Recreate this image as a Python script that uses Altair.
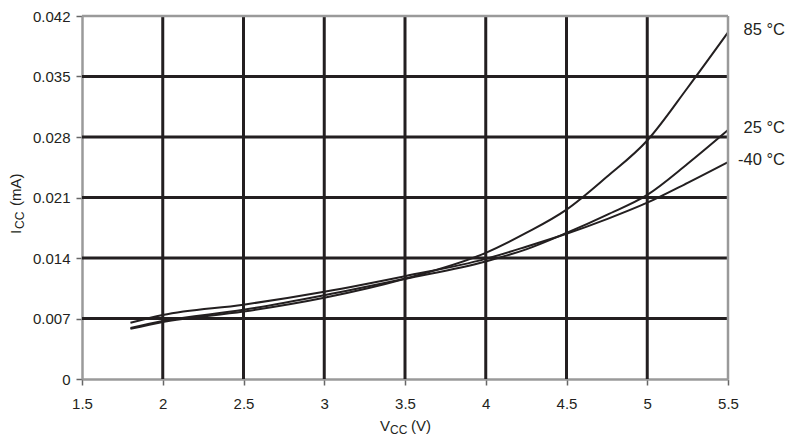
import altair as alt
import pandas as pd

# ---- data ----
vcc = [1.8, 2.0, 2.5, 3.0, 3.5, 4.0, 4.25, 4.5, 4.75, 5.0, 5.25, 5.5]
icc_m40 = [0.0065, 0.0074, 0.0086, 0.0101, 0.0119, 0.0139, 0.0153, 0.0168, 0.0185, 0.0204, 0.0227, 0.0251]
icc_25 = [0.0059, 0.0067, 0.0080, 0.0097, 0.0116, 0.0136, 0.0150, 0.0169, 0.0190, 0.0213, 0.0249, 0.0288]
icc_85 = [0.0058, 0.0066, 0.0078, 0.0094, 0.0116, 0.0146, 0.0169, 0.0196, 0.0234, 0.0276, 0.0337, 0.0401]
series_names = ["-40 °C", "25 °C", "85 °C"]

x_ticks = [1.5, 2.0, 2.5, 3.0, 3.5, 4.0, 4.5, 5.0, 5.5]
y_ticks = [0, 0.007, 0.014, 0.021, 0.028, 0.035, 0.042]
x_grid = [2.0, 2.5, 3.0, 3.5, 4.0, 4.5, 5.0]
y_grid = [0.007, 0.014, 0.021, 0.028, 0.035]
x_edge = [5.5]
y_edge = [0.042]

rows = []
for name, vals in zip(series_names, [icc_m40, icc_25, icc_85]):
    for v, i in zip(vcc, vals):
        rows.append({"V": v, "I": i, "s": name})
df = pd.DataFrame(rows)
last = df.groupby("s", as_index=False).last()

FONT = "Liberation Sans"
INK = "#231f20"
GRAY = "#9a9a9a"

xs = alt.Scale(domain=[1.5, 5.5], nice=False, zero=False)
ys = alt.Scale(domain=[0, 0.042], nice=False, zero=False)

xaxis = alt.Axis(values=x_ticks, format="~g", labelFontSize=15, labelFont=FONT,
                 labelColor=INK, domainColor=GRAY, domainWidth=2.5, tickColor="#666666",
                 tickSize=6, tickWidth=1.5, labelPadding=11, grid=False, labelFlush=False,
                 title=None)
yaxis = alt.Axis(values=y_ticks, format=".3~f", labelFontSize=15, labelFont=FONT,
                 labelColor=INK, domainColor=GRAY, domainWidth=2.5, tickColor="#666666",
                 tickSize=6, tickWidth=1.5, labelPadding=6, grid=False, labelFlush=False,
                 title=None)

vgrid = alt.Chart(pd.DataFrame({"g": x_grid})).mark_rule(color=INK, strokeWidth=3).encode(
    x=alt.X("g:Q", scale=xs, axis=xaxis))
hgrid = alt.Chart(pd.DataFrame({"g": y_grid})).mark_rule(color=INK, strokeWidth=3).encode(
    y=alt.Y("g:Q", scale=ys, axis=yaxis))
vedge = alt.Chart(pd.DataFrame({"g": x_edge})).mark_rule(color=GRAY, strokeWidth=2.5).encode(
    x=alt.X("g:Q", scale=xs, axis=xaxis))
hedge = alt.Chart(pd.DataFrame({"g": y_edge})).mark_rule(color=GRAY, strokeWidth=2.5).encode(
    y=alt.Y("g:Q", scale=ys, axis=yaxis))

lines = alt.Chart(df).mark_line(color=INK, strokeWidth=2, interpolate="monotone").encode(
    x=alt.X("V:Q", scale=xs, axis=xaxis),
    y=alt.Y("I:Q", scale=ys, axis=yaxis),
    detail="s:N",
)

labels = alt.Chart(last).mark_text(align="right", baseline="middle", dx=57, dy=-2,
                                   fontSize=16.5, font=FONT, color=INK).encode(
    x=alt.X("V:Q", scale=xs, axis=xaxis), y=alt.Y("I:Q", scale=ys, axis=yaxis), text="s:N")

def txt(s, size, x, y, angle=0, align="left"):
    return alt.Chart(pd.DataFrame({"t": [s]})).mark_text(
        align=align, baseline="alphabetic", fontSize=size, font=FONT, color=INK, angle=angle
    ).encode(x=alt.value(x), y=alt.value(y), text="t:N")

# x title: V_CC (V)
xt = [txt("V", 15, 298, 415), txt("CC", 12, 308, 417.5), txt("(V)", 15, 329, 415)]
# y title: I_CC (mA) rotated
yt = [txt("I", 15, -61, 218, angle=270), txt("CC", 12, -58.5, 213, angle=270),
      txt("(mA)", 15, -61, 190, angle=270)]

chart = alt.layer(vgrid, hgrid, lines, vedge, hedge, labels, *xt, *yt).properties(
    width=646, height=363,
    autosize=alt.AutoSizeParams(type="none"),
    padding={"left": 74, "top": 8, "right": 57, "bottom": 57},
).configure_view(strokeWidth=0)

chart.save("out.html", embed_options={"renderer": "svg", "actions": False})
